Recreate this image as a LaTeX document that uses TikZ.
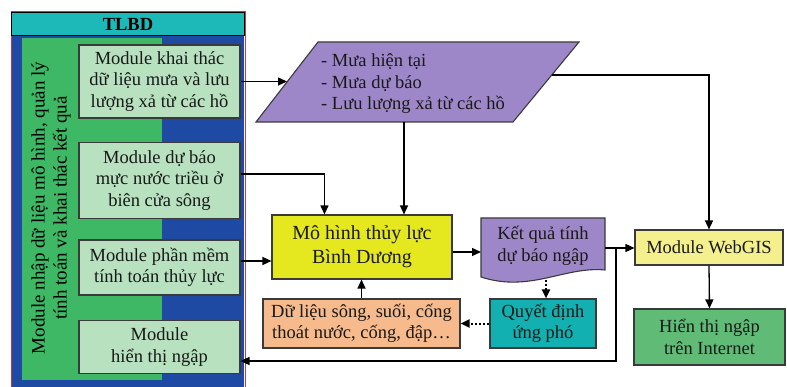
\documentclass[tikz,border=0pt]{standalone}
\usepackage{fontspec}
\setmainfont{Liberation Serif}
\usetikzlibrary{arrows.meta,calc}

\definecolor{frameRed}{HTML}{D8333A}
\definecolor{titleCyan}{HTML}{1DB9B9}
\definecolor{bandBlue}{HTML}{1E4AA3}
\definecolor{colGreen}{HTML}{3FB866}
\definecolor{boxGreen}{HTML}{B7E1BF}
\definecolor{dataPurple}{HTML}{9E87C9}
\definecolor{modelYellow}{HTML}{E5E81F}
\definecolor{decTeal}{HTML}{12B0B0}
\definecolor{peach}{HTML}{F6BA8C}
\definecolor{webYellow}{HTML}{F4F08E}
\definecolor{netGreen}{HTML}{60BB77}
\definecolor{edge}{HTML}{3A3A3A}

\begin{document}
\begin{tikzpicture}[x=1pt,y=-1pt,
  txt/.style={font=\fontsize{18.5}{21.5}\selectfont, text=black!90},
  box/.style={txt, draw=edge, line width=1.1pt, align=center, inner sep=0pt},
  modbox/.style={box, fill=boxGreen, minimum width=161pt},
  flow/.style={line width=1.3pt, -{Triangle[length=9pt,width=8pt]}},
  dotflow/.style={flow, line width=2pt, dash pattern=on 2pt off 2.2pt}]

\useasboundingbox (0,0) rectangle (787,387);

% ---- left panel: TLBD ----
\fill[bandBlue] (12,36) rectangle (244,387);
\draw[frameRed, line width=1pt] (11,387) -- (11,12) -- (245,12) -- (245,387);
\node[fill=titleCyan, draw=black, line width=1pt, minimum width=233pt,
      minimum height=23pt, inner sep=0pt, font=\fontsize{18.5}{21.5}\selectfont\bfseries]
      (tlbd) at (128,24.5) {TLBD};
\node[fill=colGreen, minimum width=140pt, minimum height=342pt, inner sep=0pt]
      (col) at (92,209) {};
\node[rotate=90, align=center, text=black, inner sep=0pt,
      font=\fontsize{19}{22}\selectfont]
      (colLabel) at (51,208) {Module nhập dữ liệu mô hình, quản lý\\tính toán và khai thác kết quả};

\node[modbox, minimum height=73pt] (m1) at (159.5,81.5)
      {Module khai thác\\dữ liệu mưa và lưu\\lượng xả từ các hồ};
\node[modbox, minimum height=76pt] (m2) at (159.5,180.5)
      {Module dự báo\\mực nước triều ở\\biên cửa sông};
\node[modbox, minimum height=55pt] (m3) at (159.5,267.5)
      {Module phần mềm\\tính toán thủy lực};
\node[modbox, minimum height=53pt] (m4) at (159.5,347)
      {Module\\hiển thị ngập};

% ---- rainfall input (parallelogram) ----
\draw[draw=edge, fill=dataPurple, line width=1.1pt]
      (318,42) -- (579,42) -- (513,122) -- (256,122) -- cycle;
\node[txt, align=left, anchor=west, inner sep=0pt] (rain) at (321,84)
      {- Mưa hiện tại\\- Mưa dự báo\\- Lưu lượng xả từ các hồ};
\coordinate (rainIn) at (287,81.5);
\coordinate (rainOut) at (552,75);
\coordinate (rainBot) at (404,122);

% ---- hydraulic model ----
\node[box, fill=modelYellow, minimum width=180pt, minimum height=64pt,
      font=\fontsize{20}{24}\selectfont] (model) at (362,247)
      {Mô hình thủy lực\\Bình Dương};

% ---- forecast result (document shape) ----
\draw[draw=edge, fill=dataPurple, line width=1.1pt]
      (481,218) -- (605,218) -- (605,270)
      .. controls (565,266) and (530,293) .. (481,277) -- cycle;
\node[txt, align=center, inner sep=0pt] (result) at (543,246)
      {Kết quả tính\\dự báo ngập};
\coordinate (resIn) at (481,252);
\coordinate (resOut) at (605,248);
\coordinate (resBot) at (546,280);
\coordinate (split) at (616,248);

% ---- response and river data ----
\node[box, fill=decTeal, minimum width=106pt, minimum height=49pt]
      (decide) at (543,323.5) {Quyết định\\ứng phó};
\node[box, fill=peach, minimum width=197pt, minimum height=49pt]
      (riverdata) at (361.5,323.5) {Dữ liệu sông, suối, cống\\thoát nước, cống, đập…};

% ---- WebGIS ----
\node[box, fill=webYellow, minimum width=148pt, minimum height=35pt]
      (webgis) at (709,247.5) {Module WebGIS};
\node[box, fill=netGreen, minimum width=151pt, minimum height=56pt]
      (inet) at (709.5,337) {Hiển thị ngập\\trên Internet};

% ---- connectors ----
\draw[flow] (m1.east) -- (rainIn);
\draw[flow] ([yshift=6.5pt]m2.east) -| ([xshift=53pt]model.north west);
\draw[flow] (rainBot) -- (rainBot |- model.north);
\draw[flow] ([yshift=6.5pt]m3.east) -- ([yshift=6.5pt]m3.east -| model.west);
\draw[flow] (model.east |- resIn) -- (resIn);
\draw[dotflow] (resBot) -- (resBot |- decide.north);
\draw[dotflow] (decide.west) -- (riverdata.east);
\draw[flow] (riverdata.north) -- (riverdata.north |- model.south);
\draw[line width=1.3pt] (resOut) -- (split);
\draw[flow] (split) -- (split -| webgis.west);
\draw[flow] (split) |- ([yshift=-14pt]m4.east);
\draw[flow] (rainOut) -| (webgis.north);
\draw[flow] (webgis.south) -- (inet.north);
\end{tikzpicture}
\end{document}
